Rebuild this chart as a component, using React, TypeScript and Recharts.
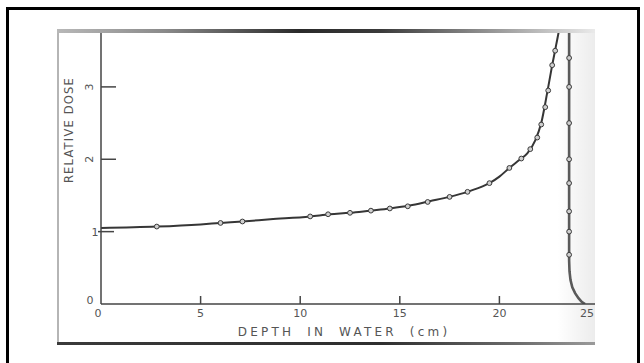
import React from "react";
import { ComposedChart, Line, Scatter, XAxis, YAxis, Label } from "recharts";

// axis ticks
const depthTicks = [0, 5, 10, 15, 20, 25];
const doseTicks = [0, 1, 2, 3];
const rightTicks = [1, 2, 3];

// rising branch (depth cm, relative dose) - smooth drawn curve
const riseDepth = [0, 2.8, 5, 6, 7.1, 8.5, 10.5, 11.5, 12.5, 13.5, 14.5, 15.5, 16.5, 17.5, 18.5, 19.5, 20, 20.5, 21, 21.4, 21.8, 22.1, 22.4, 22.65, 22.85, 23.05, 23.2];
const riseDose = [1.05, 1.07, 1.1, 1.12, 1.14, 1.17, 1.21, 1.24, 1.26, 1.29, 1.32, 1.36, 1.42, 1.48, 1.56, 1.67, 1.76, 1.88, 1.99, 2.08, 2.26, 2.5, 2.92, 3.3, 3.58, 3.88, 4.2];

// distal fall-off
const fallDepth = [23.5, 23.5, 23.5, 23.52, 23.57, 23.66, 23.8, 23.97, 24.13, 24.3];
const fallDose = [4.2, 1.0, 0.6, 0.45, 0.33, 0.23, 0.15, 0.08, 0.03, 0];

// measured points
const riseMarkDepth = [2.8, 6.0, 7.1, 10.5, 11.4, 12.5, 13.55, 14.5, 15.4, 16.4, 17.5, 18.4, 19.5, 20.5, 21.1, 21.55, 21.9, 22.1, 22.3, 22.45, 22.65, 22.8];
const riseMarkDose = [1.07, 1.12, 1.14, 1.21, 1.24, 1.26, 1.29, 1.32, 1.35, 1.41, 1.48, 1.55, 1.67, 1.88, 2.01, 2.14, 2.3, 2.48, 2.72, 2.95, 3.3, 3.5];
const fallMarkDepth = [23.5, 23.5, 23.5, 23.5, 23.5, 23.5, 23.5, 23.5];
const fallMarkDose = [3.4, 3.0, 2.5, 2.0, 1.67, 1.28, 1.0, 0.68];

const zip = (xs: number[], ys: number[]) => xs.map((x, i) => ({ x, y: ys[i] }));
const riseData = zip(riseDepth, riseDose);
const fallData = zip(fallDepth, fallDose);
const markData = [...zip(riseMarkDepth, riseMarkDose), ...zip(fallMarkDepth, fallMarkDose)];

const ink = "#454545";
const txt = "#555";
const font = "'DejaVu Sans', sans-serif";

function DoseTick({ x, y, payload }: any) {
  const v = payload.value;
  if (v === 0) {
    return (
      <text x={x - 11} y={y} fontSize={11} fontFamily={font} fill={txt} textAnchor="middle">0</text>
    );
  }
  if (v === 1) {
    return (
      <g>
        <line x1={x - 3} x2={x + 13} y1={y} y2={y} stroke={ink} strokeWidth={1.5} />
        <text x={x - 6} y={y + 4} fontSize={11} fontFamily={font} fill={txt} textAnchor="middle">1</text>
      </g>
    );
  }
  return (
    <g>
      <line x1={x} x2={x + 15} y1={y} y2={y} stroke={ink} strokeWidth={1.5} />
      <text
        transform={`translate(${x - 12},${y}) rotate(-90)`}
        dy={4}
        fontSize={11}
        fontFamily={font}
        fill={txt}
        textAnchor="middle"
      >
        {v}
      </text>
    </g>
  );
}

function DepthTick({ x, y, payload }: any) {
  const v = payload.value;
  // the last label sits on the torn edge of the scan, keep it inside
  const tx = v === 0 ? x - 3 : v === 25 ? x - 5 : x;
  const anchor = v === 25 ? "end" : "middle";
  return (
    <g>
      {v > 0 && v < 25 && <line x1={x} x2={x} y1={y} y2={y - 8} stroke={ink} strokeWidth={1.5} />}
      <text x={tx} y={y + 13} fontSize={11} fontFamily={font} fill={txt} textAnchor={anchor}>
        {v}
      </text>
    </g>
  );
}

function Bead(props: any) {
  const { cx, cy } = props;
  return <circle cx={cx} cy={cy} r={2.4} fill="#cfcfcf" stroke="#3a3a3a" strokeWidth={1} />;
}

export default function App() {
  return (
    <div style={{ position: "absolute", left: 0, top: 0, width: 644, height: 363, background: "#fff", overflow: "hidden" }}>
      {/* page frame */}
      <div style={{ position: "absolute", left: 6, top: 7, width: 634, height: 400, border: "3px solid #000", boxSizing: "border-box" }} />

      {/* scanned figure */}
      <div
        style={{
          position: "absolute",
          left: 57,
          top: 29,
          width: 538,
          height: 316,
          overflow: "hidden",
          background: "linear-gradient(to right, #fff 0%, #fff 93%, #f4f4f4 97%, #ececec 100%)",
        }}
      >
        <div style={{ position: "absolute", left: 0, top: 0, width: 2, height: 316, background: "#b5b5b5" }} />
        <ComposedChart width={542} height={314} margin={{ top: 0, right: 0, bottom: 0, left: 0 }}>
          <XAxis
            type="number"
            dataKey="x"
            domain={[0, 25]}
            ticks={depthTicks}
            allowDataOverflow
            height={39}
            tickSize={0}
            tickMargin={0}
            tick={<DepthTick />}
            axisLine={{ stroke: ink, strokeWidth: 1.5 }}
            tickLine={false}
            interval={0}
          >
            <Label
              content={({ viewBox }: any) => (
                <text
                  x={viewBox.x + 243}
                  y={viewBox.y + 32}
                  fontSize={12}
                  fontFamily={font}
                  fill={txt}
                  textAnchor="middle"
                  letterSpacing={3.2}
                  wordSpacing={6}
                >
                  DEPTH IN WATER (cm)
                </text>
              )}
            />
          </XAxis>
          <YAxis
            type="number"
            dataKey="y"
            domain={[0, 3.8]}
            ticks={doseTicks}
            allowDataOverflow
            width={44}
            tickSize={0}
            tickMargin={0}
            tick={<DoseTick />}
            axisLine={{ stroke: ink, strokeWidth: 1.5 }}
            tickLine={false}
            interval={0}
          >
            <Label
              content={({ viewBox }: any) => (
                <text
                  transform={`translate(${viewBox.x + 12},${viewBox.y + 101}) rotate(-90)`}
                  fontSize={11.5}
                  fontFamily={font}
                  fill={txt}
                  textAnchor="middle"
                  dy={4}
                  letterSpacing={1.2}
                >
                  RELATIVE DOSE
                </text>
              )}
            />
          </YAxis>
          <YAxis
            yAxisId="r"
            orientation="right"
            type="number"
            domain={[0, 3.8]}
            ticks={rightTicks}
            allowDataOverflow
            mirror
            width={0}
            tickSize={17}
            axisLine={false}
            tickLine={{ stroke: "#666", strokeWidth: 1.5 }}
            tick={() => <g />}
            interval={0}
          />
          <Line
            data={riseData}
            dataKey="y"
            type="monotone"
            stroke="#363636"
            strokeWidth={2}
            dot={false}
            isAnimationActive={false}
          />
          <Line
            data={fallData}
            dataKey="y"
            type="linear"
            stroke="#5a5a5a"
            strokeWidth={2.6}
            dot={false}
            isAnimationActive={false}
          />
          <Scatter data={markData} dataKey="y" shape={<Bead />} isAnimationActive={false} />
        </ComposedChart>
        {/* scan shadows */}
        <div
          style={{
            position: "absolute",
            left: 0,
            top: 0,
            width: 538,
            height: 4,
            background: "linear-gradient(to right, #b8b8b8 0%, #8a8a8a 20%, #2a2a2a 45%, #3a3a3a 60%, #a8a8a8 85%, #eaeaea 100%)",
          }}
        />
        <div
          style={{
            position: "absolute",
            left: 0,
            top: 313,
            width: 538,
            height: 3,
            background: "linear-gradient(to right, #3a3a3a 0%, #2e2e2e 60%, #6a6a6a 85%, #9a9a9a 100%)",
          }}
        />
      </div>
    </div>
  );
}
